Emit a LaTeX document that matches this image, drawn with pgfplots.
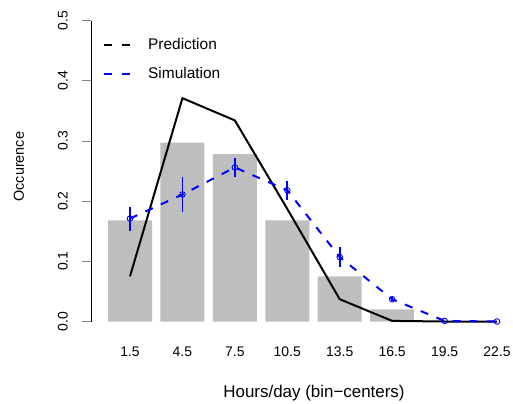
\documentclass[border=0pt]{standalone}
\usepackage{fontspec}
\setmainfont{Liberation Sans}
\usepackage{pgfplots}
\pgfplotsset{compat=1.18}
\definecolor{bargray}{RGB}{190,190,190}

% bin centres 1.5 ... 22.5 are plotted at 0 ... 7
\begin{document}
\begin{tikzpicture}
\begin{axis}[
    scale only axis,
    width=422bp, height=301bp,
    xmin=-0.744, xmax=7.305,
    ymin=0, ymax=0.5,
    clip=false,
    axis lines*=left,
    x axis line style={draw=none},
    axis line style={line width=0.8bp},
    xtick={0,1,2,3,4,5,6,7},
    xticklabels={1.5,4.5,7.5,10.5,13.5,16.5,19.5,22.5},
    xtick style={draw=none},
    ytick={0,0.1,0.2,0.3,0.4,0.5},
    yticklabels={0.0,0.1,0.2,0.3,0.4,0.5},
    ytick style={line width=0.8bp},
    tick align=outside,
    major tick length=9bp,
    /pgf/number format/assume math mode=true,
    tick label style={font=\fontsize{14}{16}\selectfont},
    xticklabel style={anchor=base, yshift=-26bp},
    yticklabel style={rotate=90, anchor=south, inner sep=0pt},
    yticklabel shift=14bp,
    xlabel={Hours/day (bin−centers)},
    ylabel={Occurence},
    xlabel style={font=\fontsize{17}{20}\selectfont, at={(axis description cs:0,0)},
        anchor=center, xshift=223bp, yshift=-71.5bp},
    ylabel style={font=\fontsize{14.5}{17}\selectfont,
        at={([xshift=-72bp,yshift=154.8bp]axis description cs:0,0)}, anchor=center},
    legend style={at={(axis description cs:0,1)}, anchor=north west,
        xshift=9bp, yshift=-16bp, draw=none, fill=none,
        font=\fontsize{15.5}{18}\selectfont,
        nodes={inner sep=0pt}, row sep=16bp},
    legend cell align=left,
    /tikz/every odd column/.append style={column sep=17bp},
    legend image code/.code={\draw[#1] (0bp,0bp) -- (26bp,0bp);},
]

\addplot[ybar, bar width=44bp, fill=bargray, draw=none, forget plot] coordinates {
    (0,0.168) (1,0.297) (2,0.278) (3,0.168)
    (4,0.075) (5,0.020) (6,0) (7,0)
};

\addplot[black, line width=2bp, forget plot] coordinates {
    (0,0.075) (1,0.371) (2,0.334) (3,0.187)
    (4,0.037) (5,0.001) (6,0) (7,0)
};

\addplot[blue, line width=2bp, dash pattern=on 8bp off 9bp,
    mark=o, mark size=2.8bp, mark options={solid, line width=0.9bp},
    forget plot] coordinates {
    (0,0.171) (1,0.211) (2,0.256) (3,0.218)
    (4,0.107) (5,0.037) (6,0.001) (7,0)
};

% error bars of the simulation (low and high end of each)
\addplot[blue, line width=1.6bp, solid, mark=none, forget plot,
    unbounded coords=jump] coordinates {
    (0,0.151) (0,0.191) (0,nan)
    (1,0.182) (1,0.240) (1,nan)
    (2,0.240) (2,0.272) (2,nan)
    (3,0.202) (3,0.234) (3,nan)
    (4,0.091) (4,0.123) (4,nan)
    (5,0.034) (5,0.040)
};

\addlegendimage{black, line width=2bp, dash pattern=on 8bp off 10bp}
\addlegendentry{Prediction}
\addlegendimage{blue, line width=2bp, dash pattern=on 8bp off 10bp}
\addlegendentry{Simulation}
\end{axis}
\pgfresetboundingbox
\useasboundingbox (-91bp,-82.5bp) rectangle (422bp,321.5bp);
\end{tikzpicture}
\end{document}
